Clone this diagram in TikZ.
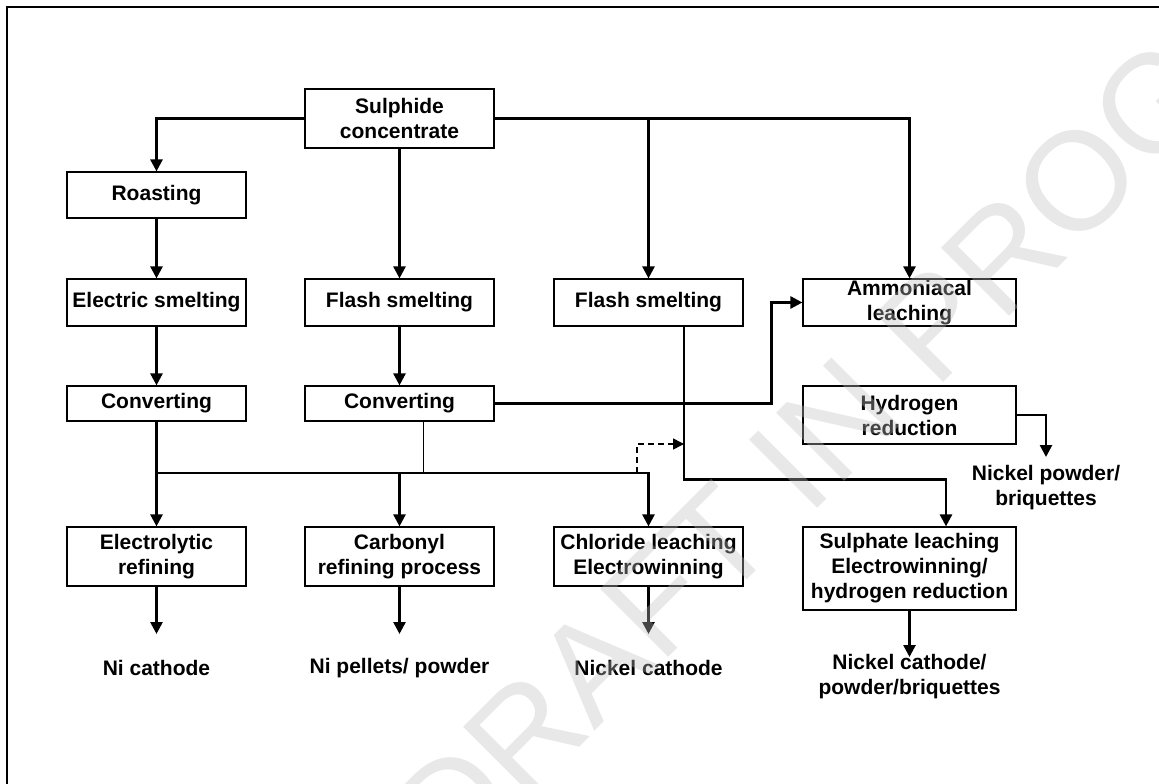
\documentclass[tikz,border=0pt]{standalone}
\usepackage{fontspec}
\setmainfont{Liberation Sans}
\usepackage{tikz}
\usetikzlibrary{arrows.meta}

\begin{document}
\begin{tikzpicture}[x=1pt, y=-1pt, line join=miter,
  procbox/.style={draw, line width=1.2pt, inner sep=0pt, align=center,
    font=\bfseries\fontsize{21}{25}\selectfont},
  product/.style={inner sep=0pt, align=center,
    font=\bfseries\fontsize{21}{25}\selectfont},
  flow/.style={line width=2.6pt, -{Triangle[width=12pt,length=12pt]}},
  feed/.style={line width=1.6pt, dash pattern=on 6pt off 4pt,
    -{Triangle[width=11pt,length=11pt]}}]

% page
\useasboundingbox (0,0) rectangle (1159,784);
\draw[line width=2pt] (7,784) -- (7,7) -- (1159,7);

% parameters (box widths)
\def\wa{179}
\def\wb{189}
\def\wc{213}

% feed
\node[procbox, minimum width=\wb, minimum height=59] (sulph) at (399.5,118.5) {Sulphide\\concentrate};

% pyrometallurgy
\node[procbox, minimum width=\wa, minimum height=46] (roast) at (156.5,195) {Roasting};
\node[procbox, minimum width=\wa, minimum height=47] (elec) at (156.5,302.5) {Electric smelting};
\node[procbox, minimum width=\wb, minimum height=47] (flasha) at (399.5,302.5) {Flash smelting};
\node[procbox, minimum width=\wb, minimum height=47] (flashb) at (648.5,302.5) {Flash smelting};
\node[procbox, minimum width=\wc, minimum height=47] (ammon) at (909.5,302.5) {Ammoniacal\\leaching};
\node[procbox, minimum width=\wa, minimum height=35] (conva) at (156.5,403.5) {Converting};
\node[procbox, minimum width=\wb, minimum height=35] (convb) at (399.5,403.5) {Converting};
\node[procbox, minimum width=\wc, minimum height=58] (hydro) at (909.5,415) {Hydrogen\\reduction};

% refining
\node[procbox, minimum width=\wa, minimum height=59] (electro) at (156.5,556.5) {Electrolytic\\refining};
\node[procbox, minimum width=\wb, minimum height=59] (carb) at (399.5,556.5) {Carbonyl\\refining process};
\node[procbox, minimum width=\wb, minimum height=59] (chlor) at (648.5,556.5) {Chloride leaching\\Electrowinning};
\node[procbox, minimum width=\wc, minimum height=83] (sulphate) at (909.5,568.5) {Sulphate leaching\\Electrowinning/\\hydrogen reduction};

% products
\node[product] (nicath) at (156.5,668) {Ni cathode};
\node[product] (pellets) at (399.5,668) {Ni pellets/ powder};
\node[product] (nkcath) at (648.5,668) {Nickel cathode};
\node[product] (nkmix) at (909.5,677) {Nickel cathode/\\powder/briquettes};
\node[product] (nkpow) at (1046,487.5) {Nickel powder/\\briquettes};

% arrow ends
\coordinate (bus) at (156.5,473);
\coordinate (dsh) at (637,473);
\coordinate (dtip) at (684,444);
\coordinate (ta) at (156.5,634);
\coordinate (tb) at (399.5,634);
\coordinate (tc) at (648.5,634);
\coordinate (td) at (909.5,657);
\coordinate (te) at (1046,457);

% from concentrate
\draw[flow] (sulph.west) -| (roast.north);
\draw[flow] (sulph.east) -| (ammon.north);
\draw[flow] (sulph.east -| flashb.north) -- (flashb.north);
\draw[flow] (sulph) -- (flasha);

% smelting and converting
\draw[flow] (roast) -- (elec);
\draw[flow] (elec) -- (conva);
\draw[flow] (flasha) -- (convb);
\draw[flow] (convb.east) -- ++(277,0) |- (ammon.west);
\draw[flow] ([xshift=35.5]flashb.south) -- ++(0,153) -| ([xshift=36.5]sulphate.north);

% matte to refining
\draw[flow] (conva) -- (electro);
\draw[flow] (bus) -| (chlor.north);
\draw[flow] (bus -| carb.north) -- (carb.north);
\draw[line width=1pt] ([xshift=23.5]convb.south) -- ++(0,52);
\draw[feed] (dsh) |- (dtip);

% products
\draw[flow] (electro) -- (ta);
\draw[flow] (carb) -- (tb);
\draw[flow] (chlor) -- (tc);
\draw[flow] (sulphate) -- (td);
\draw[flow] (hydro.east) -| (te);

% watermark
\node[rotate=45, text=black!25, text opacity=0.36, inner sep=0pt,
  font=\fontsize{140}{140}\selectfont] (mark) at (940,318) {DRAFT IN PROGRESS};

\end{tikzpicture}
\end{document}
